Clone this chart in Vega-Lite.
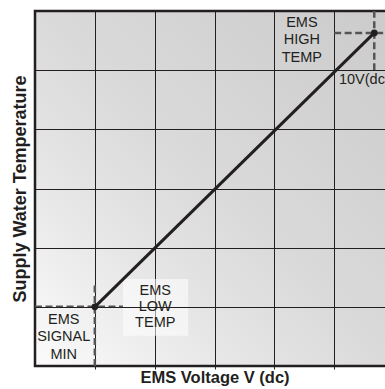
{
  "$schema": "https://vega.github.io/schema/vega-lite/v6.json",
  "width": 359,
  "height": 355,
  "autosize": {"type": "none"},
  "padding": {"left": 35, "top": 11, "right": 0, "bottom": 23},
  "background": "white",
  "config": {
    "view": {
      "fill": {
        "gradient": "linear",
        "x1": 0, "y1": 1, "x2": 1, "y2": 0,
        "stops": [
          {"offset": 0, "color": "#fbfbfb"},
          {"offset": 0.3, "color": "#e5e5e5"},
          {"offset": 0.5, "color": "#dadada"},
          {"offset": 1, "color": "#cbcbcb"}
        ]
      },
      "stroke": "#231f20",
      "strokeWidth": 2.5
    },
    "font": "Liberation Sans"
  },
  "datasets": {
    "box": [{"v": 1.47, "t": 0.51, "v2": 2.56, "t2": 1.47}],
    "dash": [
      {"v": 0, "t": 1, "v2": 1.47, "t2": 1},
      {"v": 1, "t": 0, "v2": 1, "t2": 1.37},
      {"v": 5, "t": 5.63, "v2": 6, "t2": 5.63},
      {"v": 5.67, "t": 5, "v2": 5.67, "t2": 6}
    ],
    "line": [{"v": 1, "t": 1}, {"v": 5.67, "t": 5.63}],
    "low": [
      {"v": 2.01, "t": 1.275, "label": "EMS\nLOW\nTEMP"}
    ],
    "labels": [
      {"v": 0.48, "t": 0.78, "label": "EMS\nSIGNAL\nMIN"},
      {"v": 4.46, "t": 5.8, "label": "EMS\nHIGH\nTEMP"}
    ],
    "side": [{"v": 5.08, "t": 4.83, "label": "10V(dc)"}]
  },
  "encoding": {
    "x": {
      "field": "v", "type": "quantitative",
      "scale": {"domain": [0, 6], "nice": false, "zero": false},
      "axis": {
        "values": [1, 2, 3, 4, 5],
        "labels": false,
        "ticks": true, "tickSize": 3, "tickColor": "#231f20", "tickWidth": 1,
        "domain": false,
        "grid": true, "gridColor": "#231f20", "gridWidth": 1, "gridOpacity": 1,
        "title": "EMS Voltage V (dc)",
        "titleFont": "Liberation Sans", "titleFontSize": 16.5, "titleFontWeight": "bold",
        "titleColor": "#231f20", "titlePadding": 0
      }
    },
    "y": {
      "field": "t", "type": "quantitative",
      "scale": {"domain": [0, 6], "nice": false, "zero": false},
      "axis": {
        "values": [1, 2, 3, 4, 5],
        "labels": false,
        "ticks": false,
        "domain": false,
        "grid": true, "gridColor": "#231f20", "gridWidth": 1, "gridOpacity": 1,
        "zindex": 1,
        "title": "Supply Water Temperature",
        "titleFont": "Liberation Sans", "titleFontSize": 18, "titleFontWeight": "bold",
        "titleColor": "#231f20", "titlePadding": 6
      }
    }
  },
  "layer": [
    {
      "data": {"name": "box"},
      "mark": {"type": "rect", "fill": "white", "fillOpacity": 0.55},
      "encoding": {"x2": {"field": "v2"}, "y2": {"field": "t2"}}
    },
    {
      "data": {"name": "dash"},
      "mark": {"type": "rule", "color": "#555555", "strokeWidth": 2.5, "strokeDash": [7, 3.5]},
      "encoding": {"x2": {"field": "v2"}, "y2": {"field": "t2"}}
    },
    {
      "data": {"name": "line"},
      "mark": {"type": "line", "color": "#231f20", "strokeWidth": 3}
    },
    {
      "data": {"name": "line"},
      "mark": {"type": "circle", "color": "#231f20", "size": 45, "opacity": 1}
    },
    {
      "data": {"name": "low"},
      "mark": {"type": "text", "align": "center", "baseline": "middle", "lineBreak": "\n", "lineHeight": 16, "fontSize": 14.5, "color": "#231f20", "font": "Liberation Sans"},
      "encoding": {"text": {"field": "label"}}
    },
    {
      "data": {"name": "labels"},
      "mark": {"type": "text", "align": "center", "baseline": "middle", "lineBreak": "\n", "lineHeight": 17.5, "fontSize": 14.5, "color": "#231f20", "font": "Liberation Sans"},
      "encoding": {"text": {"field": "label"}}
    },
    {
      "data": {"name": "side"},
      "mark": {"type": "text", "align": "left", "baseline": "middle", "fontSize": 14.5, "color": "#231f20", "font": "Liberation Sans"},
      "encoding": {"text": {"field": "label"}}
    }
  ]
}
